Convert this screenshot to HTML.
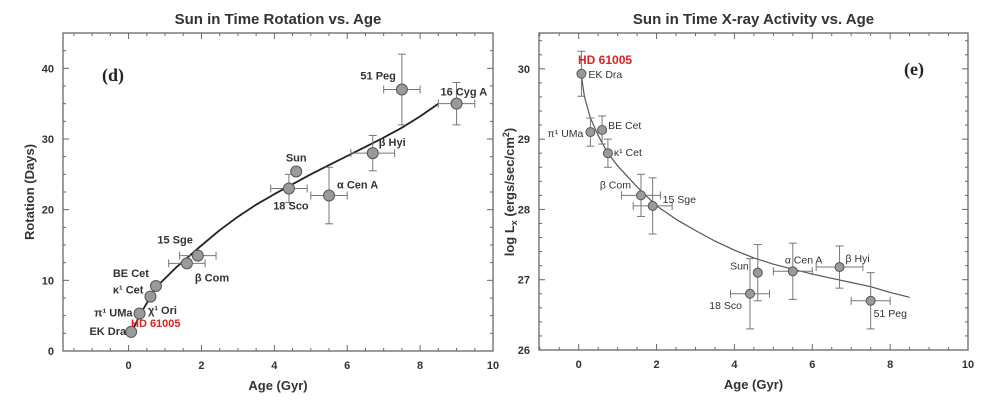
<!DOCTYPE html>
<html><head><meta charset="utf-8"><style>
body{margin:0;background:#fff;}
svg{display:block;font-family:"Liberation Sans",Arial,sans-serif;}
</style></head><body>
<svg id="s" width="1000" height="415" viewBox="0 0 1000 415"></svg>
<script>
// ---- Chart D data (rotation) ----
const rotNames=["EK Dra","π¹ UMa","κ¹ Cet","BE Cet","β Com","15 Sge","18 Sco","Sun","α Cen A","β Hyi","51 Peg","16 Cyg A"];
const rotAge=[0.07,0.3,0.6,0.75,1.6,1.9,4.4,4.6,5.5,6.7,7.5,9.0];
const rotVal=[2.7,5.3,7.7,9.2,12.4,13.5,23,25.4,22,28,37,35];
const rotAgeErr=[0,0,0,0,0.5,0.5,0.5,0,0.5,0.6,0.5,0.5];
const rotValErr=[0,0,0,0,0,0,2,0,4,2.5,5,3];
const rotFitAge=[0.07,0.3,0.75,1.3,1.9,2.5,3,3.5,4,4.5,5,5.5,6,6.5,7,7.5,8,8.5];
const rotFitVal=[2.5,5,9,11.8,14.5,17.1,19,20.7,22.2,23.6,25,26.3,27.6,28.9,30.2,31.6,33.2,35];
// ---- Chart E data (X-ray) ----
const xNames=["EK Dra","π¹ UMa","BE Cet","κ¹ Cet","β Com","15 Sge","18 Sco","Sun","α Cen A","β Hyi","51 Peg"];
const xAge=[0.07,0.3,0.6,0.75,1.6,1.9,4.4,4.6,5.5,6.7,7.5];
const xVal=[29.93,29.1,29.13,28.8,28.2,28.05,26.8,27.1,27.12,27.18,26.7];
const xAgeErr=[0,0,0,0,0.5,0.5,0.5,0,0.5,0.6,0.5];
const xValErr=[0.32,0.2,0.2,0.2,0.3,0.4,0.5,0.4,0.4,0.3,0.4];
const xFitAge=[0.07,0.15,0.3,0.5,0.75,1,1.5,2,2.5,3,3.5,4,4.5,5,5.5,6,6.5,7,7.5,8,8.5];
const xFitVal=[29.9,29.6,29.3,29.05,28.8,28.62,28.32,28.05,27.86,27.7,27.55,27.42,27.31,27.22,27.15,27.08,27.02,26.96,26.9,26.82,26.75];
const xTicks=[0,2,4,6,8,10];
const rotTicks=[0,10,20,30,40];
const lxTicks=[26,27,28,29,30];

const S=document.getElementById('s');const NS='http://www.w3.org/2000/svg';
function mk(t,a,p){const e=document.createElementNS(NS,t);for(const k in a)e.setAttribute(k,a[k]);(p||S).appendChild(e);return e;}

function chart(o){
  const g=mk('g',{});
  
  
  const X=v=>o.x0+(v-o.xmin)/(o.xmax-o.xmin)*(o.x1-o.x0);
  const Y=v=>o.y1-(v-o.ymin)/(o.ymax-o.ymin)*(o.y1-o.y0);
  const fr=mk('rect',{x:o.x0,y:o.y0,width:o.x1-o.x0,height:o.y1-o.y0,fill:'none',stroke:'#666','stroke-width':1.3},g);
  
  
  for(let v=Math.ceil(o.xmin/o.xminor)*o.xminor;v<=o.xmax+1e-9;v+=o.xminor){
    const major=Math.abs(v/2-Math.round(v/2))<1e-6;const L=major?6:3;
    mk('line',{x1:X(v),x2:X(v),y1:o.y1,y2:o.y1-L,stroke:'#666'},g);
    mk('line',{x1:X(v),x2:X(v),y1:o.y0,y2:o.y0+L,stroke:'#666'},g);
  }
  for(let v=o.ymin;v<=o.ymax+1e-9;v+=o.yminor){
    const major=o.yticks.some(t=>Math.abs(t-v)<1e-6);const L=major?6:3;
    mk('line',{x1:o.x0,x2:o.x0+L,y1:Y(v),y2:Y(v),stroke:'#666'},g);
    mk('line',{x1:o.x1,x2:o.x1-L,y1:Y(v),y2:Y(v),stroke:'#666'},g);
  }
  xTicks.forEach(t=>{const e=mk('text',{x:X(t),y:o.y1+18,'text-anchor':'middle','font-size':11,'font-weight':'bold',fill:'#333'},g);e.textContent=t;
    });
  o.yticks.forEach(t=>{const e=mk('text',{x:o.x0-9,y:Y(t)+4,'text-anchor':'end','font-size':11,'font-weight':'bold',fill:'#333'},g);e.textContent=t;
    });
  const d=o.fa.map((a,i)=>(i?'L':'M')+X(a).toFixed(1)+','+Y(o.fv[i]).toFixed(1)).join('');
  const fl=mk('path',{d:d,fill:'none',stroke:o.fitCol,'stroke-width':o.fitW,'stroke-linejoin':'round'},g);
  
  
  o.age.forEach((a,i)=>{
    const cx=X(a),cy=Y(o.val[i]);
    if(o.ae[i]){mk('line',{x1:X(a-o.ae[i]),x2:X(a+o.ae[i]),y1:cy,y2:cy,stroke:'#777'},g);
      [a-o.ae[i],a+o.ae[i]].forEach(e=>mk('line',{x1:X(e),x2:X(e),y1:cy-4,y2:cy+4,stroke:'#777'},g));}
    if(o.ve[i]){mk('line',{x1:cx,x2:cx,y1:Y(o.val[i]-o.ve[i]),y2:Y(o.val[i]+o.ve[i]),stroke:'#777'},g);
      [o.val[i]-o.ve[i],o.val[i]+o.ve[i]].forEach(e=>mk('line',{x1:cx-4,x2:cx+4,y1:Y(e),y2:Y(e),stroke:'#777'},g));}
    const c=mk('circle',{cx:cx,cy:cy,r:o.r,fill:'#9a9a9a',stroke:'#555','stroke-width':1},g);
    
    
    const lb=o.lbl[i];
    const t=mk('text',{x:cx+lb[0],y:cy+lb[1],'text-anchor':lb[2]||'start','font-size':o.lfs,'font-weight':o.lfw,fill:'#333'},g);
    t.textContent=o.names[i];
    
    
  });
  const ti=mk('text',{x:(o.x0+o.x1)/2,y:o.y0-9,'text-anchor':'middle','font-size':15,'font-weight':'bold',fill:'#333'},g);ti.textContent=o.title;
  
  const xt=mk('text',{x:(o.x0+o.x1)/2,y:o.y1+39,'text-anchor':'middle','font-size':13,'font-weight':'bold',fill:'#333'},g);xt.textContent='Age (Gyr)';
  
  return {g,X,Y};
}

const A=chart({name:'rotation-chart',title:'Sun in Time Rotation vs. Age',x0:63,x1:493,y0:33,y1:351,xmin:-1.8,xmax:10,ymin:0,ymax:45,xminor:0.5,yminor:2.5,yticks:rotTicks,
  fa:rotFitAge,fv:rotFitVal,fitCol:'#222',fitW:1.8,age:rotAge,val:rotVal,ae:rotAgeErr,ve:rotValErr,names:rotNames,r:5.5,lfs:11,lfw:'bold',
  lbl:[[-5,3,'end'],[-7,3,'end'],[-7,-3,'end'],[-7,-9,'end'],[8,18],[-5,-12,'end'],[2,21,'middle'],[0,-10,'middle'],[8,-7],[6,-7],[-6,-10,'end'],[-16,-8]]});
let t=mk('text',{x:148,y:314,'font-size':11,'font-weight':'bold',fill:'#333'},A.g);t.textContent='χ¹ Ori';

t=mk('text',{x:131,y:327,'font-size':11,'font-weight':'bold',fill:'#d22'},A.g);t.textContent='HD 61005';

t=mk('text',{x:102,y:81,'font-size':18,'font-weight':'bold','font-family':'Liberation Serif,serif',fill:'#222'},A.g);t.textContent='(d)';

t=mk('text',{x:0,y:0,'font-size':13,'font-weight':'bold',fill:'#333','text-anchor':'middle',transform:'translate(34,192) rotate(-90)'},A.g);t.textContent='Rotation (Days)';


const B=chart({name:'xray-chart',title:'Sun in Time X-ray Activity vs. Age',x0:539,x1:968,y0:33,y1:350,xmin:-1.02,xmax:10,ymin:26,ymax:30.51,xminor:0.5,yminor:0.2,yticks:lxTicks,
  fa:xFitAge,fv:xFitVal,fitCol:'#555',fitW:1.2,age:xAge,val:xVal,ae:xAgeErr,ve:xValErr,names:xNames,r:4.5,lfs:10.5,lfw:'normal',
  lbl:[[7,4],[-7,5,'end'],[6,-1],[6,3],[-10,-7,'end'],[10,-3],[-8,15,'end'],[-9,-3,'end'],[-8,-8],[6,-5],[3,16]]});
t=mk('text',{x:578,y:64,'font-size':12,'font-weight':'bold',fill:'#d22'},B.g);t.textContent='HD 61005';

t=mk('text',{x:904,y:75,'font-size':18,'font-weight':'bold','font-family':'Liberation Serif,serif',fill:'#222'},B.g);t.textContent='(e)';

t=mk('text',{x:0,y:0,'font-size':13,'font-weight':'bold',fill:'#333','text-anchor':'middle',transform:'translate(514,192) rotate(-90)'},B.g);
t.innerHTML='log L<tspan font-size="9" dy="3">x</tspan><tspan dy="-3"> (ergs/sec/cm</tspan><tspan font-size="9" dy="-5">2</tspan><tspan dy="5">)</tspan>';

</script>
</body></html>
